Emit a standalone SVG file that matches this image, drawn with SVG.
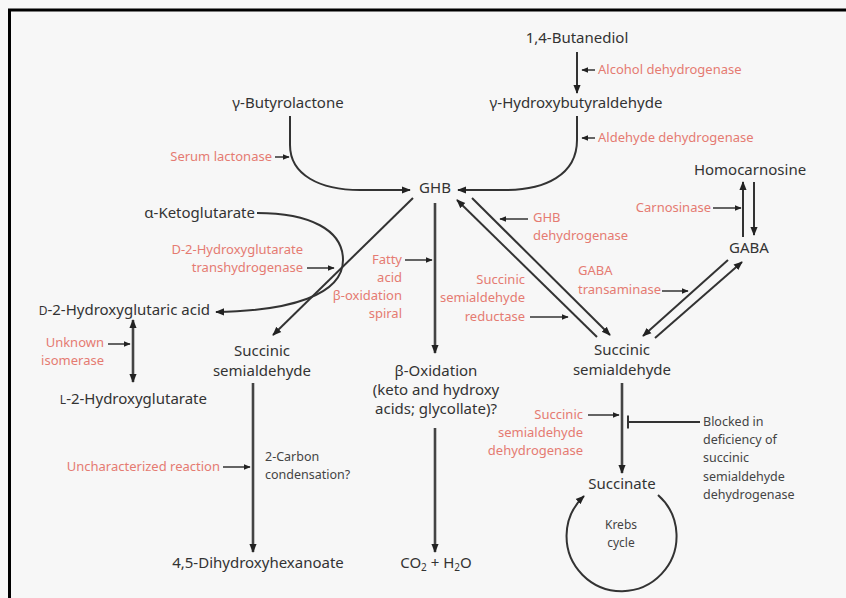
<svg xmlns="http://www.w3.org/2000/svg" width="846" height="598" viewBox="0 0 846 598">
<defs>
<style>
.bg{fill:#f7f7f7}
.frame{stroke:#000;stroke-width:3;fill:none}
.ln{stroke:#333;stroke-width:2;fill:none}
.thick{stroke:#444;stroke-width:2.6;fill:none}
.sm{stroke:#333;stroke-width:1.5;fill:none}
text{font-family:"Noto Sans","Open Sans","DejaVu Sans",sans-serif}
.lbl{font-size:15px;fill:#333}
.red{font-size:13px;fill:#e57b72}
.note{font-size:12.5px;fill:#444}
.tiny{font-size:12px;fill:#444}
.c{text-anchor:middle}
.e{text-anchor:end}
</style>
<marker id="ah" viewBox="0 0 10 10" refX="9" refY="5" markerWidth="9" markerHeight="9" markerUnits="userSpaceOnUse" orient="auto-start-reverse">
<path d="M0,1 L10,5 L0,9 Z" fill="#222"/>
</marker>
<marker id="ahs" viewBox="0 0 10 10" refX="9" refY="5" markerWidth="7" markerHeight="7" markerUnits="userSpaceOnUse" orient="auto">
<path d="M0,1 L10,5 L0,9 Z" fill="#222"/>
</marker>
</defs>
<rect class="bg" x="0" y="0" width="846" height="598"/>
<path class="frame" d="M9.5,598 L9.5,10 L846,10"/>

<g id="connectors">
<path class="ln" d="M577,52 L577,93" marker-end="url(#ah)"/>
<path class="sm" d="M595,70 L582,70" marker-end="url(#ahs)"/>
<path class="sm" d="M595,138 L582,138" marker-end="url(#ahs)"/>
<path class="ln" d="M577,116 L577,140 C577,175 545,190 505,190 L458,190" marker-end="url(#ah)"/>
<path class="ln" d="M290,116 L290,145 C290,175 320,190 360,190 L410,190" marker-end="url(#ah)"/>
<path class="sm" d="M275,157 L289,157" marker-end="url(#ahs)"/>
<path class="ln" d="M472,198 L610,335" marker-end="url(#ah)"/>
<path class="ln" d="M597,337 L457,200" marker-end="url(#ah)"/>
<path class="sm" d="M528,219 L500,219" marker-end="url(#ahs)"/>
<path class="sm" d="M530,317 L568,317" marker-end="url(#ahs)"/>
<path class="ln" d="M728,260 L643,336" marker-end="url(#ah)"/>
<path class="ln" d="M655,338 L742,262" marker-end="url(#ah)"/>
<path class="sm" d="M662,291 L688,291" marker-end="url(#ahs)"/>
<path class="ln" d="M743,237 L743,182" marker-end="url(#ah)"/>
<path class="ln" d="M754,182 L754,235" marker-end="url(#ah)"/>
<path class="sm" d="M713,208 L741,208" marker-end="url(#ahs)"/>
<path class="thick" d="M435,203 L435,353" marker-end="url(#ah)"/>
<path class="sm" d="M405,260 L432,260" marker-end="url(#ahs)"/>
<path class="thick" d="M435,428 L435,552" marker-end="url(#ah)"/>
<path class="ln" d="M413,198 L273,335" marker-end="url(#ah)"/>
<path class="ln" d="M257,213 C310,213 343,230 343,260 C343,295 290,311 216,312" marker-end="url(#ah)"/>
<path class="sm" d="M307,268 L334,268" marker-end="url(#ahs)"/>
<path class="thick" d="M133,320 L133,382" marker-start="url(#ah)" marker-end="url(#ah)"/>
<path class="sm" d="M108,344 L130,344" marker-end="url(#ahs)"/>
<path class="thick" d="M253,383 L253,552" marker-end="url(#ah)"/>
<path class="sm" d="M223,467 L250,467" marker-end="url(#ahs)"/>
<path class="thick" d="M622,383 L622,473" marker-end="url(#ah)"/>
<path class="sm" d="M588,415 L619,415" marker-end="url(#ahs)"/>
<path class="ln" d="M700,422 L628,422 M628,415.5 L628,428.5"/>
<path class="ln" d="M658,495 A55,55 0 1 1 584,496" marker-end="url(#ah)"/>
</g>

<g id="butanediol"><text class="lbl c" x="577" y="43">1,4-Butanediol</text></g>
<g id="alcohol-dh"><text class="red" x="598" y="74">Alcohol dehydrogenase</text></g>
<g id="hydroxybutyraldehyde"><text class="lbl c" x="576" y="108">γ-Hydroxybutyraldehyde</text></g>
<g id="butyrolactone"><text class="lbl c" x="288" y="108">γ-Butyrolactone</text></g>
<g id="aldehyde-dh"><text class="red" x="598" y="142">Aldehyde dehydrogenase</text></g>
<g id="serum-lactonase"><text class="red e" x="272" y="161">Serum lactonase</text></g>
<g id="ghb"><text class="lbl c" x="435" y="193">GHB</text></g>
<g id="homocarnosine"><text class="lbl c" x="750" y="175">Homocarnosine</text></g>
<g id="carnosinase"><text class="red e" x="711" y="212">Carnosinase</text></g>
<g id="gaba"><text class="lbl c" x="749" y="253">GABA</text></g>
<g id="ghb-dh"><text class="red" x="533" y="222">GHB</text><text class="red" x="533" y="240">dehydrogenase</text></g>
<g id="gaba-transaminase"><text class="red" x="578" y="275">GABA</text><text class="red" x="578" y="294">transaminase</text></g>
<g id="ssa-reductase"><text class="red e" x="525" y="284">Succinic</text><text class="red e" x="525" y="302">semialdehyde</text><text class="red e" x="525" y="321">reductase</text></g>
<g id="ssa-right"><text class="lbl c" x="622" y="355">Succinic</text><text class="lbl c" x="622" y="375">semialdehyde</text></g>
<g id="ketoglutarate"><text class="lbl e" x="255" y="218">α-Ketoglutarate</text></g>
<g id="d2hg-transhydrogenase"><text class="red e" x="303" y="254">D-2-Hydroxyglutarate</text><text class="red e" x="303" y="272">transhydrogenase</text></g>
<g id="d2hg"><text class="lbl e" x="210" y="315"><tspan font-size="12">D</tspan>-2-Hydroxyglutaric acid</text></g>
<g id="unknown-isomerase"><text class="red e" x="104" y="347">Unknown</text><text class="red e" x="104" y="365">isomerase</text></g>
<g id="l2hg"><text class="lbl e" x="207" y="404"><tspan font-size="12">L</tspan>-2-Hydroxyglutarate</text></g>
<g id="ssa-left"><text class="lbl c" x="262" y="356">Succinic</text><text class="lbl c" x="262" y="376">semialdehyde</text></g>
<g id="fatty-acid"><text class="red e" x="402" y="264">Fatty</text><text class="red e" x="402" y="282">acid</text><text class="red e" x="402" y="300">β-oxidation</text><text class="red e" x="402" y="318">spiral</text></g>
<g id="beta-oxidation"><text class="lbl c" x="436" y="376">β-Oxidation</text><text class="lbl c" x="436" y="395">(keto and hydroxy</text><text class="lbl c" x="436" y="414">acids; glycollate)?</text></g>
<g id="uncharacterized"><text class="red e" x="220" y="471">Uncharacterized reaction</text></g>
<g id="condensation"><text class="note" x="265" y="461">2-Carbon</text><text class="note" x="265" y="479">condensation?</text></g>
<g id="dihydroxyhexanoate"><text class="lbl c" x="258" y="568">4,5-Dihydroxyhexanoate</text></g>
<g id="co2"><text class="lbl c" x="436" y="568">CO<tspan font-size="10" dy="3">2</tspan><tspan dy="-3"> + H</tspan><tspan font-size="10" dy="3">2</tspan><tspan dy="-3">O</tspan></text></g>
<g id="ssa-dh"><text class="red e" x="583" y="419">Succinic</text><text class="red e" x="583" y="437">semialdehyde</text><text class="red e" x="583" y="455">dehydrogenase</text></g>
<g id="blocked"><text class="note" x="703" y="426">Blocked in</text><text class="note" x="703" y="444">deficiency of</text><text class="note" x="703" y="462">succinic</text><text class="note" x="703" y="481">semialdehyde</text><text class="note" x="703" y="499">dehydrogenase</text></g>
<g id="succinate"><text class="lbl c" x="622" y="489">Succinate</text></g>
<g id="krebs"><text class="tiny c" x="621" y="529">Krebs</text><text class="tiny c" x="621" y="547">cycle</text></g>
</svg>
